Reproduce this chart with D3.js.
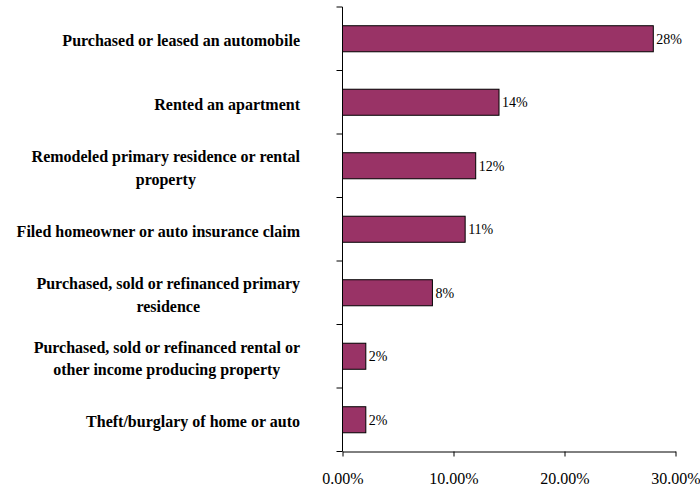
<!DOCTYPE html>
<html><head><meta charset="utf-8">
<script src="https://cdn.jsdelivr.net/npm/d3@7"></script>
<style>body{margin:0;background:#fff}svg{display:block}</style>
</head><body>
<svg id="chart" width="700" height="489"></svg>
<script>
const categories = [
  ["Purchased or leased an automobile"],
  ["Rented an apartment"],
  ["Remodeled primary residence or rental", "property"],
  ["Filed homeowner or auto insurance claim"],
  ["Purchased, sold or refinanced primary", "residence"],
  ["Purchased, sold or refinanced rental or", "other income producing property"],
  ["Theft/burglary of home or auto"]
];
const values = [28.0, 14.1, 12.0, 11.05, 8.1, 2.1, 2.1];
const valueLabels = ["28%", "14%", "12%", "11%", "8%", "2%", "2%"];
const xTicks = [0, 10, 20, 30];

(function () {
const svg = d3.select("#chart");
const mLeft = 342.5, mRight = 675.5, mTop = 7, mBottom = 451.5;
const x = d3.scaleLinear().domain([0, 30]).range([mLeft, mRight]);
const y = d3.scaleBand().domain(d3.range(categories.length)).range([mTop, mBottom]).paddingInner(0.59).paddingOuter(0.295);
const band = (mBottom - mTop) / categories.length;
const serif = "'Liberation Serif','Times New Roman',serif";

// bars
svg.append("g").selectAll("rect").data(values).join("rect")
  .attr("x", x(0)).attr("y", (d, i) => y(i))
  .attr("width", d => x(d) - x(0)).attr("height", y.bandwidth())
  .attr("fill", "#993366").attr("stroke", "#000").attr("stroke-width", 1);

// value labels
svg.append("g").selectAll("text").data(values).join("text")
  .attr("x", d => x(d) + 3).attr("y", (d, i) => y(i) + y.bandwidth() / 2)
  .attr("dy", "0.35em").attr("font-family", serif).attr("font-size", 14)
  .text((d, i) => valueLabels[i]);

// x axis
const xAxis = svg.append("g").attr("transform", `translate(0,${mBottom})`)
  .call(d3.axisBottom(x).tickValues(xTicks).tickSize(5).tickSizeOuter(0).tickFormat(d => d3.format(".2f")(d) + "%"));
xAxis.select(".domain").attr("stroke", "#000");
xAxis.selectAll(".tick line").attr("stroke", "#000");
xAxis.selectAll(".tick text").attr("font-family", serif).attr("font-size", 16).attr("fill", "#000").attr("dy", "1.56em");

// y axis line and ticks
const yg = svg.append("g");
yg.append("line").attr("x1", mLeft).attr("x2", mLeft).attr("y1", mTop).attr("y2", mBottom).attr("stroke", "#000");
yg.selectAll("line.t").data(d3.range(categories.length + 1)).join("line").attr("class", "t")
  .attr("x1", mLeft - 6).attr("x2", mLeft).attr("y1", i => mTop + i * band).attr("y2", i => mTop + i * band)
  .attr("stroke", "#000");

// category labels
const labelRight = 300, lineH = 22.7;
categories.forEach((lines, i) => {
  const cy = y(i) + y.bandwidth() / 2 + 2;
  const g = svg.append("g");
  const texts = lines.map((l, k) => g.append("text")
    .attr("font-family", serif).attr("font-weight", "bold").attr("font-size", 16)
    .attr("y", cy + (k - (lines.length - 1) / 2) * lineH).attr("dy", "0.35em").text(l));
  const w = Math.max(...texts.map(t => t.node().getComputedTextLength()));
  texts.forEach(t => t.attr("text-anchor", "middle").attr("x", labelRight - w / 2));
});
})();
</script>
</body></html>
